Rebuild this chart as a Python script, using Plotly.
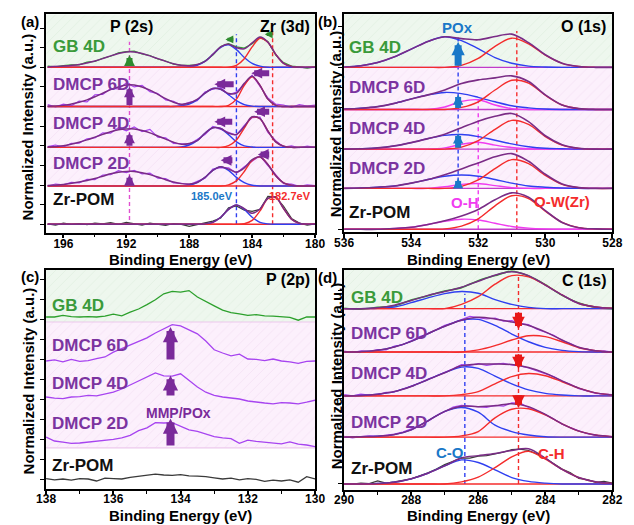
import plotly.graph_objects as go

FONT = "Liberation Sans, Arial, sans-serif"
W, H = 634, 525

# ===================== DATA =====================
# ---- (a) P(2s) / Zr(3d) ----  order: Zr-POM, DMCP 2D, DMCP 4D, DMCP 6D, GB 4D
a_offsets = [0.0, 0.976, 1.96, 3.0, 4.0]
a_fit_E = [197, 196, 195, 194.5, 194, 193.5, 193, 192.5, 192, 191.5, 191, 190.5, 190, 189.5, 189, 188.5,
           188, 187.5, 187, 186.5, 186, 185.5, 185, 184.5, 184, 183.5, 183, 182.5, 182, 181.5, 181, 180]
a_raw_E = [197, 196.5, 196, 195.5, 195, 194.5, 194, 193.5, 193, 192.5, 192, 191.5, 191, 190.5, 190, 189.5, 189,
           188.5, 188, 187.5, 187, 186.5, 186, 185.5, 185, 184.5, 184, 183.5, 183, 182.5, 182, 181.5, 181, 180.5, 180]
a_raw_zr = [0.01, -0.02, 0.03, 0.0, 0.02, -0.01, 0.03, 0.01, 0.04, 0.0, 0.05, 0.02, -0.02, 0.03, 0.0, -0.03, 0.02,
            0.0, -0.05, -0.01, 0.04, 0.08, 0.16, 0.42, 0.47, 0.36, 0.33, 0.38, 0.71, 0.70, 0.46, 0.15, 0.03, -0.02, 0.01]
a_raw_2d = [0.0, 0.05, 0.03, 0.09, 0.08, 0.17, 0.16, 0.28, 0.29, 0.39, 0.34, 0.40, 0.31, 0.33, 0.20, 0.19, 0.08,
            0.07, 0.03, 0.12, 0.20, 0.43, 0.47, 0.46, 0.33, 0.49, 0.64, 0.77, 0.52, 0.29, 0.06, 0.05, -0.01, 0.03, 0.01]
a_raw_4d = [0.02, 0.06, 0.01, 0.10, 0.11, 0.22, 0.24, 0.37, 0.36, 0.50, 0.42, 0.52, 0.40, 0.46, 0.26, 0.24, 0.10,
            0.09, 0.08, 0.20, 0.33, 0.53, 0.46, 0.38, 0.31, 0.56, 0.76, 0.77, 0.38, 0.17, 0.01, 0.04, -0.01, 0.03, 0.0]
a_raw_6d = [0.05, -0.01, 0.06, 0.02, 0.14, 0.12, 0.30, 0.31, 0.46, 0.45, 0.60, 0.50, 0.54, 0.38, 0.33, 0.17, 0.13,
            0.03, 0.11, 0.15, 0.37, 0.44, 0.48, 0.30, 0.37, 0.56, 0.80, 0.50, 0.22, 0.06, 0.04, -0.02, 0.05, 0.01, 0.04]
a_raw_gb = [0.03, 0.01, 0.04, 0.06, 0.06, 0.13, 0.15, 0.23, 0.28, 0.37, 0.40, 0.41, 0.34, 0.30, 0.21, 0.16, 0.08,
            0.05, 0.05, 0.06, 0.16, 0.31, 0.53, 0.60, 0.52, 0.49, 0.60, 0.76, 0.66, 0.31, 0.12, 0.03, 0.01, -0.02, 0.01]
a_env_zr = [0, 0, 0, 0, 0, 0, 0, 0, 0, 0, 0, 0, 0, 0, 0, 0, 0, 0,
            0.01, 0.05, 0.18, 0.38, 0.49, 0.40, 0.28, 0.39, 0.66, 0.69, 0.40, 0.13, 0.025, 0]
a_env_2d = [0.01, 0.04, 0.10, 0.14, 0.19, 0.25, 0.31, 0.35, 0.37, 0.37, 0.34, 0.29, 0.23, 0.16, 0.10, 0.06,
            0.05, 0.09, 0.22, 0.40, 0.49, 0.43, 0.35, 0.46, 0.67, 0.74, 0.55, 0.26, 0.08, 0.02, 0.0, 0.0]
a_env_4d = [0.01, 0.04, 0.13, 0.19, 0.26, 0.33, 0.40, 0.45, 0.47, 0.47, 0.43, 0.37, 0.29, 0.21, 0.13, 0.08,
            0.10, 0.17, 0.36, 0.50, 0.48, 0.36, 0.33, 0.53, 0.78, 0.73, 0.42, 0.14, 0.03, 0.0, 0.0, 0.0]
a_env_6d = [0.01, 0.03, 0.11, 0.17, 0.25, 0.34, 0.43, 0.50, 0.55, 0.55, 0.50, 0.42, 0.31, 0.20, 0.11, 0.06,
            0.09, 0.18, 0.34, 0.46, 0.44, 0.33, 0.34, 0.59, 0.77, 0.54, 0.19, 0.03, 0.0, 0.0, 0.0, 0.0]
a_env_gb = [0.01, 0.03, 0.07, 0.11, 0.16, 0.22, 0.29, 0.35, 0.39, 0.39, 0.35, 0.29, 0.22, 0.15, 0.09, 0.05,
            0.04, 0.07, 0.15, 0.33, 0.52, 0.59, 0.50, 0.47, 0.62, 0.77, 0.64, 0.33, 0.10, 0.02, 0.0, 0.0]
a_blue_zr = [0, 0, 0, 0, 0, 0, 0, 0, 0, 0, 0, 0, 0, 0, 0, 0, 0, 0,
             0.01, 0.05, 0.18, 0.38, 0.49, 0.38, 0.18, 0.05, 0.01, 0, 0, 0, 0, 0]
a_blue_2d = [0, 0, 0, 0, 0, 0, 0, 0, 0, 0, 0, 0, 0, 0, 0, 0,
             0.02, 0.085, 0.22, 0.40, 0.49, 0.40, 0.22, 0.085, 0.02, 0, 0, 0, 0, 0, 0, 0]
a_blue_4d = [0, 0, 0, 0, 0, 0, 0, 0, 0, 0, 0, 0, 0, 0, 0,
             0.01, 0.06, 0.17, 0.36, 0.50, 0.48, 0.32, 0.14, 0.04, 0.01, 0, 0, 0, 0, 0, 0, 0]
a_blue_6d = [0, 0, 0, 0, 0, 0, 0, 0, 0, 0, 0, 0, 0, 0, 0,
             0.02, 0.06, 0.17, 0.34, 0.46, 0.44, 0.30, 0.15, 0.05, 0.01, 0, 0, 0, 0, 0, 0, 0]
a_blue_gb = [0, 0, 0, 0, 0, 0, 0, 0, 0, 0, 0, 0, 0, 0, 0, 0,
             0.01, 0.05, 0.15, 0.33, 0.51, 0.57, 0.45, 0.25, 0.10, 0.03, 0, 0, 0, 0, 0, 0]
a_red_zr = [0, 0, 0, 0, 0, 0, 0, 0, 0, 0, 0, 0, 0, 0, 0, 0, 0, 0, 0, 0, 0, 0, 0,
            0.015, 0.10, 0.34, 0.65, 0.69, 0.40, 0.13, 0.025, 0]
a_red_2d = [0, 0, 0, 0, 0, 0, 0, 0, 0, 0, 0, 0, 0, 0, 0, 0, 0, 0, 0, 0, 0,
            0.03, 0.13, 0.37, 0.65, 0.74, 0.55, 0.26, 0.08, 0.015, 0, 0]
a_red_4d = [0, 0, 0, 0, 0, 0, 0, 0, 0, 0, 0, 0, 0, 0, 0, 0, 0, 0, 0, 0, 0,
            0.045, 0.19, 0.49, 0.77, 0.73, 0.42, 0.14, 0.03, 0, 0, 0]
a_red_6d = [0, 0, 0, 0, 0, 0, 0, 0, 0, 0, 0, 0, 0, 0, 0, 0, 0, 0, 0, 0, 0,
            0.03, 0.19, 0.54, 0.76, 0.54, 0.19, 0.03, 0, 0, 0, 0]
a_red_gb = [0, 0, 0, 0, 0, 0, 0, 0, 0, 0, 0, 0, 0, 0, 0, 0, 0, 0, 0, 0, 0, 0,
            0.05, 0.22, 0.52, 0.74, 0.64, 0.33, 0.10, 0.02, 0, 0]
a_peak_E = [191.8, 185.0, 182.7]            # P2s, Zr 3d (blue), Zr 3d (red) reference lines
a_line_top = [4.65, 4.84, 4.92]
a_line_bottom = [0.11, 0.0, 0.0]
a_up_tip = [1.26, 2.34, 3.51, 4.31]          # DMCP 2D, 4D, 6D, GB 4D
a_shift1_y = [1.63, 2.61, 3.57, 4.71]
a_shift1_tip = [186.0, 186.4, 186.4, 185.7]
a_shift1_tail = [185.16, 185.17, 185.08, 185.1]
a_shift2_y = [1.78, 2.87, 3.85, 4.84]
a_shift2_tip = [183.64, 183.87, 184.05, 183.2]
a_shift2_tail = [182.82, 182.82, 182.82, 182.8]

# ---- (b) O(1s) ----
b_offsets = [0.0, 1.01, 1.98, 2.96, 4.0]
b_E = [536, 535.5, 535, 534.5, 534, 533.5, 533, 532.5, 532, 531.5, 531, 530.5, 530, 529.5, 529, 528.5, 528]
b_env_zr = [0, 0, 0, 0.02, 0.05, 0.12, 0.21, 0.33, 0.49, 0.73, 0.90, 0.79, 0.46, 0.17, 0.04, 0.01, 0]
b_env_2d = [0, 0.01, 0.03, 0.06, 0.13, 0.22, 0.34, 0.48, 0.63, 0.78, 0.86, 0.67, 0.35, 0.11, 0.02, 0, 0]
b_env_4d = [0, 0.01, 0.03, 0.08, 0.16, 0.26, 0.37, 0.53, 0.69, 0.81, 0.88, 0.68, 0.33, 0.11, 0.02, 0, 0]
b_env_6d = [0.01, 0.03, 0.07, 0.15, 0.26, 0.36, 0.48, 0.64, 0.73, 0.78, 0.83, 0.69, 0.36, 0.11, 0.02, 0, 0]
b_env_gb = [0.01, 0.04, 0.12, 0.26, 0.45, 0.64, 0.755, 0.71, 0.68, 0.76, 0.82, 0.61, 0.31, 0.10, 0.02, 0, 0]
b_blue_2d = [0, 0.01, 0.03, 0.06, 0.13, 0.22, 0.30, 0.33, 0.30, 0.22, 0.13, 0.06, 0.03, 0.01, 0, 0, 0]
b_blue_4d = [0, 0.01, 0.03, 0.08, 0.16, 0.26, 0.34, 0.36, 0.31, 0.22, 0.13, 0.06, 0.02, 0.01, 0, 0, 0]
b_blue_6d = [0.01, 0.03, 0.07, 0.15, 0.26, 0.36, 0.42, 0.39, 0.30, 0.19, 0.09, 0.04, 0.01, 0, 0, 0, 0]
b_blue_gb = [0.01, 0.04, 0.12, 0.26, 0.45, 0.64, 0.755, 0.66, 0.46, 0.24, 0.10, 0.03, 0.01, 0, 0, 0, 0]
b_red_zr = [0, 0, 0, 0, 0, 0, 0.01, 0.08, 0.26, 0.58, 0.83, 0.76, 0.45, 0.17, 0.04, 0.01, 0]
b_red_2d = [0, 0, 0, 0, 0, 0, 0, 0.05, 0.21, 0.49, 0.71, 0.61, 0.32, 0.10, 0.02, 0, 0]
b_red_4d = [0, 0, 0, 0, 0, 0, 0, 0.05, 0.21, 0.49, 0.71, 0.61, 0.31, 0.10, 0.02, 0, 0]
b_red_6d = [0, 0, 0, 0, 0, 0, 0, 0.05, 0.19, 0.48, 0.72, 0.65, 0.35, 0.11, 0.02, 0, 0]
b_red_gb = [0, 0, 0, 0, 0, 0, 0, 0.05, 0.22, 0.52, 0.72, 0.58, 0.30, 0.10, 0.02, 0, 0]
b_mag_zr = [0, 0, 0.004, 0.02, 0.05, 0.12, 0.20, 0.25, 0.23, 0.15, 0.07, 0.03, 0.01, 0, 0, 0, 0]
b_mag_2d = [0, 0, 0, 0, 0, 0, 0.04, 0.10, 0.12, 0.07, 0.02, 0, 0, 0, 0, 0, 0]
b_mag_4d = [0, 0, 0, 0, 0, 0, 0.03, 0.12, 0.17, 0.10, 0.04, 0.01, 0, 0, 0, 0, 0]
b_mag_6d = [0, 0, 0, 0, 0, 0, 0.06, 0.20, 0.24, 0.11, 0.02, 0, 0, 0, 0, 0, 0]
b_peak_E = [532.6, 532.0, 530.85]           # POx, O-H, O-W(Zr)
b_line_top = [4.8, 3.22, 4.9]
b_line_bottom = [1.01, 0.0, 0.0]
b_up_tip = [1.26, 2.37, 3.33, 4.63]          # DMCP 2D, 4D, 6D, GB 4D

# ---- (c) P(2p) ----
c_offsets = [0.0, 0.95, 1.95, 2.93, 4.03]
c_band_edges = [0.78, 3.925]
c_E = [138, 137.75, 137.5, 137.25, 137, 136.75, 136.5, 136.25, 136, 135.75, 135.5, 135.25, 135, 134.75, 134.5,
       134.25, 134, 133.75, 133.5, 133.25, 133, 132.75, 132.5, 132.25, 132, 131.75, 131.5, 131.25, 131, 130.75,
       130.5, 130.25, 130]
c_zr = [0.01, -0.02, 0.0, -0.03, 0.01, 0.0, -0.05, 0.02, 0.01, 0.0, 0.04, 0.07, 0.10, 0.12, 0.10, 0.09, 0.11,
        0.08, 0.07, 0.06, 0.03, 0.0, 0.02, -0.02, 0.01, -0.01, -0.06, -0.03, -0.05, -0.02, -0.08, 0.06, 0.0]
c_2d = [0.10, 0.0, -0.03, -0.06, -0.05, -0.03, -0.01, 0.02, 0.04, 0.08, 0.14, 0.26, 0.33, 0.46, 0.45, 0.46, 0.38,
        0.28, 0.24, 0.18, 0.11, 0.08, 0.06, -0.06, 0.02, -0.01, -0.03, -0.05, -0.07, -0.02, -0.08, -0.10, -0.14]
c_4d = [0.10, 0.07, 0.06, 0.10, 0.11, 0.14, 0.13, 0.18, 0.22, 0.30, 0.40, 0.52, 0.62, 0.70, 0.63, 0.62, 0.68,
        0.52, 0.35, 0.22, 0.14, 0.10, 0.08, 0.05, 0.0, -0.03, -0.05, -0.07, -0.04, -0.05, -0.07, -0.03, 0.02]
c_6d = [0.02, 0.05, 0.0, 0.06, 0.01, 0.03, 0.08, 0.12, 0.24, 0.33, 0.42, 0.52, 0.60, 0.72, 0.82, 0.93, 0.90,
        0.80, 0.70, 0.52, 0.30, 0.22, 0.15, 0.19, 0.07, 0.06, 0.03, 0.07, 0.02, 0.0, -0.04, 0.01, 0.02]
c_gb = [0.02, 0.02, 0.06, 0.03, 0.02, 0.03, 0.02, 0.04, 0.09, 0.05, 0.14, 0.22, 0.33, 0.45, 0.60, 0.66, 0.64,
        0.68, 0.52, 0.42, 0.30, 0.19, 0.13, 0.10, 0.06, 0.08, 0.05, 0.04, 0.03, 0.01, -0.06, 0.02, 0.02]
c_arrow_E = 134.3
c_arrow_base = [0.80, 2.05, 2.95]            # DMCP 2D, 4D, 6D
c_arrow_tip = [1.51, 2.59, 3.80]

# ---- (d) C(1s) ----
d_offsets = [0.0, 1.09, 2.05, 3.07, 4.08]
d_E = [290, 289.5, 289, 288.5, 288, 287.5, 287, 286.5, 286, 285.5, 285, 284.5, 284, 283.5, 283, 282.5, 282]
d_raw_E = [290, 289.75, 289.5, 289.25, 289, 288.75, 288.5, 288.25, 288, 287.75, 287.5, 287.25, 287, 286.75,
           286.5, 286.25, 286, 285.75, 285.5, 285.25, 285, 284.75, 284.5, 284.25, 284, 283.75, 283.5, 283.25,
           283, 282.75, 282.5, 282.25, 282]
d_raw_zr = [0.01, 0.0, 0.02, 0.01, 0.07, 0.02, 0.05, 0.08, 0.12, 0.19, 0.26, 0.35, 0.45, 0.53, 0.60, 0.60, 0.65,
            0.66, 0.70, 0.74, 0.80, 0.81, 0.78, 0.70, 0.60, 0.47, 0.35, 0.26, 0.13, 0.10, 0.04, 0.06, 0.02]
d_raw_2d = [0.02, -0.02, 0.01, 0.03, 0.02, 0.05, 0.07, 0.12, 0.19, 0.27, 0.37, 0.50, 0.59, 0.70, 0.74, 0.72, 0.70,
            0.69, 0.74, 0.72, 0.80, 0.79, 0.69, 0.62, 0.52, 0.42, 0.30, 0.22, 0.15, 0.08, 0.04, 0.03, 0.0]
d_raw_4d = [0.03, 0.0, 0.04, 0.02, 0.03, 0.08, 0.09, 0.16, 0.23, 0.30, 0.39, 0.46, 0.55, 0.63, 0.73, 0.71, 0.75,
            0.71, 0.74, 0.76, 0.72, 0.70, 0.65, 0.58, 0.52, 0.45, 0.34, 0.27, 0.17, 0.12, 0.06, 0.04, 0.03]
d_raw_6d = [0.02, -0.01, 0.03, 0.01, 0.06, 0.05, 0.14, 0.17, 0.26, 0.36, 0.42, 0.53, 0.62, 0.68, 0.76, 0.83, 0.80,
            0.77, 0.79, 0.72, 0.73, 0.66, 0.64, 0.53, 0.46, 0.39, 0.27, 0.20, 0.10, 0.07, 0.02, 0.03, 0.0]
d_raw_gb = [0.01, -0.01, 0.03, 0.07, 0.20, 0.30, 0.41, 0.49, 0.65, 0.77, 0.87, 0.76, 0.56, 0.31, 0.13, 0.03, 0.0]
d_env_zr = [0, 0, 0.01, 0.04, 0.12, 0.25, 0.42, 0.61, 0.66, 0.71, 0.78, 0.82, 0.60, 0.34, 0.15, 0.05, 0.01]
d_env_2d = [0, 0.01, 0.02, 0.06, 0.17, 0.38, 0.60, 0.72, 0.71, 0.73, 0.78, 0.71, 0.53, 0.31, 0.14, 0.05, 0.01]
d_env_4d = [0, 0.01, 0.04, 0.10, 0.22, 0.38, 0.54, 0.70, 0.74, 0.74, 0.73, 0.66, 0.53, 0.35, 0.18, 0.07, 0.02]
d_env_6d = [0, 0.01, 0.04, 0.12, 0.25, 0.43, 0.60, 0.74, 0.81, 0.77, 0.70, 0.62, 0.47, 0.28, 0.11, 0.03, 0]
d_env_gb = [0, 0, 0.02, 0.08, 0.19, 0.31, 0.40, 0.50, 0.64, 0.78, 0.86, 0.77, 0.55, 0.32, 0.12, 0.04, 0.01]
d_blue_zr = [0, 0, 0.01, 0.04, 0.12, 0.25, 0.42, 0.56, 0.50, 0.33, 0.15, 0.06, 0.02, 0, 0, 0, 0]
d_blue_2d = [0, 0.01, 0.02, 0.06, 0.17, 0.38, 0.60, 0.69, 0.58, 0.28, 0.13, 0.05, 0.01, 0, 0, 0, 0]
d_blue_4d = [0, 0.01, 0.04, 0.10, 0.22, 0.38, 0.54, 0.67, 0.64, 0.46, 0.28, 0.14, 0.06, 0.02, 0, 0, 0]
d_blue_6d = [0, 0.01, 0.04, 0.12, 0.25, 0.43, 0.60, 0.74, 0.76, 0.62, 0.42, 0.24, 0.11, 0.04, 0.01, 0, 0]
d_blue_gb = [0, 0, 0.01, 0.04, 0.14, 0.25, 0.35, 0.40, 0.36, 0.21, 0.10, 0.03, 0, 0, 0, 0, 0]
d_red_zr = [0, 0, 0, 0, 0, 0, 0, 0.05, 0.16, 0.38, 0.63, 0.76, 0.58, 0.34, 0.15, 0.05, 0.01]
d_red_2d = [0, 0, 0, 0, 0, 0, 0, 0.03, 0.13, 0.45, 0.65, 0.66, 0.52, 0.31, 0.14, 0.05, 0.01]
d_red_4d = [0, 0, 0, 0, 0, 0, 0, 0.03, 0.10, 0.28, 0.45, 0.52, 0.47, 0.33, 0.18, 0.07, 0.02]
d_red_6d = [0, 0, 0, 0, 0, 0, 0, 0, 0.05, 0.15, 0.28, 0.38, 0.36, 0.24, 0.10, 0.03, 0]
d_red_gb = [0, 0, 0, 0, 0, 0, 0, 0.10, 0.28, 0.57, 0.77, 0.74, 0.55, 0.32, 0.12, 0.04, 0.01]
d_peak_E = [286.4, 284.8]                    # C-O, C-H
d_line_top = [4.43, 4.88]
d_arrow_tail = [2.10, 3.05, 4.02]            # DMCP 2D, 4D, 6D
d_arrow_tip = [1.77, 2.67, 3.60]

names = ["Zr-POM", "DMCP 2D", "DMCP 4D", "DMCP 6D", "GB 4D"]

# sanity checks on array lengths
for arrs, n in [((a_env_zr, a_env_2d, a_env_4d, a_env_6d, a_env_gb, a_blue_zr, a_blue_2d, a_blue_4d, a_blue_6d,
                  a_blue_gb, a_red_zr, a_red_2d, a_red_4d, a_red_6d, a_red_gb), len(a_fit_E)),
                ((a_raw_zr, a_raw_2d, a_raw_4d, a_raw_6d, a_raw_gb), len(a_raw_E)),
                ((b_env_zr, b_env_2d, b_env_4d, b_env_6d, b_env_gb, b_blue_2d, b_blue_4d, b_blue_6d, b_blue_gb,
                  b_red_zr, b_red_2d, b_red_4d, b_red_6d, b_red_gb, b_mag_zr, b_mag_2d, b_mag_4d, b_mag_6d), len(b_E)),
                ((c_zr, c_2d, c_4d, c_6d, c_gb), len(c_E)),
                ((d_raw_zr, d_raw_2d, d_raw_4d, d_raw_6d), len(d_raw_E)),
                ((d_raw_gb, d_env_zr, d_env_2d, d_env_4d, d_env_6d, d_env_gb, d_blue_zr, d_blue_2d, d_blue_4d,
                  d_blue_6d, d_blue_gb, d_red_zr, d_red_2d, d_red_4d, d_red_6d, d_red_gb), len(d_E))]:
    for i, a in enumerate(arrs):
        assert len(a) == n, (i, len(a), n)

# ===================== STYLE =====================
C_GB_TXT = "#3a9a3a"
C_DM_TXT = "#7b33a0"
C_ZR_TXT = "#111111"
C_RAW = ["#3a3a3a", "#a744f0", "#a744f0", "#a744f0", "#2ca02c"]
C_ENV = "#7a2c86"
C_RED = "#f42c2c"
C_BLUE = "#2f3ff0"
C_MAG = "#f03cf0"
C_CYAN = "#1a78c8"
C_ARROW = "#7a2a9a"

PANELS = {
    "a": dict(x="x", y="y", xr=[197.1, 180.0], yr=[-0.214, 5.35], box=(37.3, 315.0, 14.3, 232.7), dtick=4, minor=2, tick0=180, so=-5),
    "b": dict(x="x2", y="y2", xr=[536, 528], yr=[-0.074, 5.31], box=(345.0, 622.0, 14.3, 232.3), dtick=2, minor=1, tick0=528, so=-5),
    "c": dict(x="x3", y="y3", xr=[138, 130], yr=[-0.25, 5.225], box=(37.3, 315.0, 270.0, 489.0), dtick=2, minor=1, tick0=130, so=-6),
    "d": dict(x="x4", y="y4", xr=[290, 282], yr=[-0.14, 4.98], box=(345.0, 622.0, 270.0, 490.0), dtick=2, minor=1, tick0=282, so=-6),
}

fig = go.Figure()


def add_line(p, xs, ys, off, color, width, shape="spline", dash=None):
    P = PANELS[p]
    fig.add_trace(go.Scatter(
        x=xs, y=[v + off for v in ys], mode="lines",
        line=dict(color=color, width=width, shape=shape, dash=dash, smoothing=0.9),
        xaxis=P["x"], yaxis=P["y"], showlegend=False, hoverinfo="skip"))


def add_band(p, y0, y1, bg, fg):
    P = PANELS[p]
    x0, x1 = P["xr"]
    fig.add_trace(go.Scatter(
        x=[x0, x1, x1, x0, x0], y=[y0, y0, y1, y1, y0], mode="none", fill="toself",
        fillcolor=bg, fillpattern=dict(shape="/", bgcolor=bg, fgcolor=fg, size=7, solidity=0.12),
        xaxis=P["x"], yaxis=P["y"], showlegend=False, hoverinfo="skip"))


def add_arrow(p, x, y, ax, ay, color, width, size):
    P = PANELS[p]
    fig.add_annotation(x=x, y=y, ax=ax, ay=ay, xref=P["x"], yref=P["y"], axref=P["x"], ayref=P["y"],
                       text="", showarrow=True, arrowhead=2, arrowsize=size, arrowwidth=width,
                       arrowcolor=color, standoff=0, startstandoff=0)


def add_text(p, x, y, txt, color, size, xanchor="center", xdomain=False):
    P = PANELS[p]
    fig.add_annotation(x=x, y=y, xref=(P["x"] + " domain") if xdomain else P["x"], yref=P["y"],
                       text="<b>%s</b>" % txt, showarrow=False, xanchor=xanchor, yanchor="middle",
                       font=dict(family=FONT, size=size, color=color))


GREEN_BG, GREEN_FG = "#eef7ee", "#d3e9d3"
PINK_BG, PINK_FG = "#fcf0fc", "#efd2ef"

# ---- bands ----
add_band("a", a_offsets[4], PANELS["a"]["yr"][1], GREEN_BG, GREEN_FG)
add_band("a", a_offsets[1], a_offsets[4], PINK_BG, PINK_FG)
add_band("b", b_offsets[4], PANELS["b"]["yr"][1], GREEN_BG, GREEN_FG)
add_band("b", b_offsets[1], b_offsets[4], PINK_BG, PINK_FG)
add_band("c", c_band_edges[1], PANELS["c"]["yr"][1], GREEN_BG, GREEN_FG)
add_band("c", c_band_edges[0], c_band_edges[1], PINK_BG, PINK_FG)
add_band("d", d_offsets[4], PANELS["d"]["yr"][1], GREEN_BG, GREEN_FG)
add_band("d", d_offsets[1], d_offsets[4], PINK_BG, PINK_FG)
for yv in c_band_edges:
    add_line("c", PANELS["c"]["xr"], [yv, yv], 0, "#ecc8ec", 1.2, shape="linear")

# ---- dashed reference lines ----
DASH = "4px,3px"
for E, y0, y1, col in zip(a_peak_E, a_line_bottom, a_line_top, ["#e050d0", C_BLUE, C_RED]):
    add_line("a", [E, E], [y0, y1], 0, col, 1.4, shape="linear", dash=DASH)
for E, y0, y1, col in zip(b_peak_E, b_line_bottom, b_line_top, [C_BLUE, C_MAG, C_RED]):
    add_line("b", [E, E], [y0, y1], 0, col, 1.4, shape="linear", dash=DASH)
for E, y1, col in zip(d_peak_E, d_line_top, [C_BLUE, C_RED]):
    add_line("d", [E, E], [0, y1], 0, col, 1.4, shape="linear", dash=DASH)

# ---- panel (a) ----
a_raw = [a_raw_zr, a_raw_2d, a_raw_4d, a_raw_6d, a_raw_gb]
a_env = [a_env_zr, a_env_2d, a_env_4d, a_env_6d, a_env_gb]
a_blue = [a_blue_zr, a_blue_2d, a_blue_4d, a_blue_6d, a_blue_gb]
a_red = [a_red_zr, a_red_2d, a_red_4d, a_red_6d, a_red_gb]
for i, off in enumerate(a_offsets):
    add_line("a", [a_fit_E[0], a_fit_E[-1]], [0, 0], off, C_RED, 1.4, shape="linear")
    add_line("a", a_raw_E, a_raw[i], off, C_RAW[i], 1.2, shape="linear")
    add_line("a", a_fit_E, a_blue[i], off, C_BLUE, 1.4)
    add_line("a", a_fit_E, a_red[i], off, C_RED, 1.4)
    add_line("a", a_fit_E, a_env[i], off, C_ENV, 1.5)

# ---- panel (b) ----
b_env = [b_env_zr, b_env_2d, b_env_4d, b_env_6d, b_env_gb]
b_blue = [None, b_blue_2d, b_blue_4d, b_blue_6d, b_blue_gb]
b_red = [b_red_zr, b_red_2d, b_red_4d, b_red_6d, b_red_gb]
b_mag = [b_mag_zr, b_mag_2d, b_mag_4d, b_mag_6d, None]
for i, off in enumerate(b_offsets):
    add_line("b", [b_E[0], b_E[-1]], [0, 0], off, "#c03cc8", 1.4, shape="linear")
    if b_mag[i] is not None:
        add_line("b", b_E, b_mag[i], off, C_MAG, 1.4)
    if b_blue[i] is not None:
        add_line("b", b_E, b_blue[i], off, C_BLUE, 1.4)
    add_line("b", b_E, b_red[i], off, C_RED, 1.4)
    add_line("b", b_E, b_env[i], off, C_ENV, 1.6)

# ---- panel (c) ----
c_raw = [c_zr, c_2d, c_4d, c_6d, c_gb]
for i, off in enumerate(c_offsets):
    add_line("c", c_E, c_raw[i], off, C_RAW[i], 1.3, shape="linear")

# ---- panel (d) ----
d_raw = [d_raw_zr, d_raw_2d, d_raw_4d, d_raw_6d]
d_env = [d_env_zr, d_env_2d, d_env_4d, d_env_6d, d_env_gb]
d_blue = [d_blue_zr, d_blue_2d, d_blue_4d, d_blue_6d, d_blue_gb]
d_red = [d_red_zr, d_red_2d, d_red_4d, d_red_6d, d_red_gb]
for i, off in enumerate(d_offsets):
    add_line("d", [d_E[0], d_E[-1]], [0, 0], off, C_RED, 1.4, shape="linear")
    if i < 4:
        add_line("d", d_raw_E, d_raw[i], off, C_RAW[i], 1.2, shape="linear")
    else:
        add_line("d", d_E, d_raw_gb, off, C_RAW[i], 1.6, shape="spline")
    add_line("d", d_E, d_blue[i], off, C_BLUE, 1.4)
    add_line("d", d_E, d_red[i], off, C_RED, 1.4)
    add_line("d", d_E, d_env[i], off, C_ENV, 1.5)

# ---- arrows ----
for k in range(4):
    col = "#2e8b2e" if k == 3 else C_ARROW
    add_arrow("a", a_peak_E[0], a_up_tip[k], a_peak_E[0], a_offsets[k + 1], col, 6, 0.36)
    w, s = (3.5, 0.45) if k == 3 else (6, 0.36)
    add_arrow("a", a_shift1_tip[k], a_shift1_y[k], a_shift1_tail[k], a_shift1_y[k], col, w, s)
    add_arrow("a", a_shift2_tip[k], a_shift2_y[k], a_shift2_tail[k], a_shift2_y[k], col, w, s)
    add_arrow("b", b_peak_E[0], b_up_tip[k], b_peak_E[0], b_offsets[k + 1], C_CYAN, 7 if k == 3 else 6, 0.38 if k == 3 else 0.34)
for k in range(3):
    add_arrow("c", c_arrow_E, c_arrow_tip[k], c_arrow_E, c_arrow_base[k], C_ARROW, 8, 0.38)
    add_arrow("d", d_peak_E[1], d_arrow_tip[k], d_peak_E[1], d_arrow_tail[k], "#e81818", 7, 0.36)

# ---- spectrum labels ----
label_cols = [C_ZR_TXT, C_DM_TXT, C_DM_TXT, C_DM_TXT, C_GB_TXT]
label_y = {"a": [0.63, 1.56, 2.58, 3.55, 4.52], "b": [0.42, 1.49, 2.50, 3.51, 4.48],
           "c": [0.33, 1.40, 2.40, 3.35, 4.35], "d": [0.37, 1.44, 2.58, 3.51, 4.35]}
label_x = {"a": 0.017, "b": 0.012, "c": 0.016, "d": 0.018}
for p in "abcd":
    for i, nm in enumerate(names):
        add_text(p, label_x[p], label_y[p][i], nm, label_cols[i], 17, xanchor="left", xdomain=True)

# ---- in-panel annotations ----
add_text("a", 191.66, 5.05, "P (2s)", "black", 16)
add_text("a", 181.9, 5.05, "Zr (3d)", "black", 16)
add_text("a", 186.57, 0.72, "185.0eV", C_CYAN, 11)
add_text("a", 181.57, 0.72, "182.7eV", C_RED, 11)
add_text("b", 528.12, 5.02, "O (1s)", "black", 16, xanchor="right")
add_text("b", 532.62, 4.98, "POx", C_CYAN, 15)
add_text("b", 532.39, 0.65, "O-H", C_MAG, 15)
add_text("b", 529.5, 0.68, "O-W(Zr)", C_RED, 15)
add_text("c", 130.1, 5.0, "P (2p)", "black", 16, xanchor="right")
add_text("c", 134.05, 1.64, "MMP/POx", C_ARROW, 14)
add_text("d", 282.12, 4.74, "C (1s)", "black", 16, xanchor="right")
add_text("d", 286.83, 0.74, "C-O", C_CYAN, 15)
add_text("d", 283.83, 0.72, "C-H", C_RED, 15)

# ---- axes ----
layout = {}
for idx, p in enumerate("abcd"):
    P = PANELS[p]
    x0, x1, y0, y1 = P["box"]
    sfx = "" if idx == 0 else str(idx + 1)
    layout["xaxis" + sfx] = dict(
        domain=[x0 / W, x1 / W], range=P["xr"], anchor=P["y"], showgrid=False, zeroline=False,
        showline=True, linecolor="black", linewidth=1.5, mirror=True,
        ticks="outside", ticklen=4, tickwidth=1.5, tickcolor="black",
        tick0=P["tick0"], dtick=P["dtick"], ticklabelstandoff=P["so"],
        minor=dict(ticks="outside", ticklen=3, tickwidth=1.2, tickcolor="black", dtick=P["minor"], tick0=P["tick0"]),
        tickfont=dict(family=FONT, size=12, color="black", weight="bold"))
    layout["yaxis" + sfx] = dict(
        domain=[1 - y1 / H, 1 - y0 / H], range=P["yr"], anchor=P["x"], showgrid=False, zeroline=False,
        showline=True, linecolor="black", linewidth=1.5, mirror=True, showticklabels=False,
        ticks="outside", ticklen=4, tickwidth=1.2, tickcolor="black", tick0=0, dtick=0.5)

fig.update_layout(**layout)

# ---- axis titles, panel letters (paper coords) ----
def paper_text(xp, yp, txt, size, angle=0, color="black"):
    fig.add_annotation(x=xp / W, y=1 - yp / H, xref="paper", yref="paper", text="<b>%s</b>" % txt,
                       showarrow=False, textangle=angle, xanchor="center", yanchor="middle",
                       font=dict(family=FONT, size=size, color=color))

for xp, yp in [(176, 259), (484, 259), (176, 515), (484, 515)]:
    paper_text(xp, yp, "Binding Energy (eV)", 15)
for xp, yp in [(19, 127), (337, 124), (19, 381), (337, 376)]:
    paper_text(xp, yp, "Normalized Intensity (a.u.)", 15, angle=-90)
for xp, yp, t in [(21, 22, "(a)"), (328, 22, "(b)"), (21, 276, "(c)"), (328, 277, "(d)")]:
    paper_text(xp, yp, t, 15)

fig.update_layout(width=W, height=H, margin=dict(l=0, r=0, t=0, b=0),
                  plot_bgcolor="white", paper_bgcolor="white", showlegend=False)

fig.write_html("out.html", config={"displayModeBar": False},
               post_script="document.body.style.margin='0px';document.body.style.overflow='hidden';")
